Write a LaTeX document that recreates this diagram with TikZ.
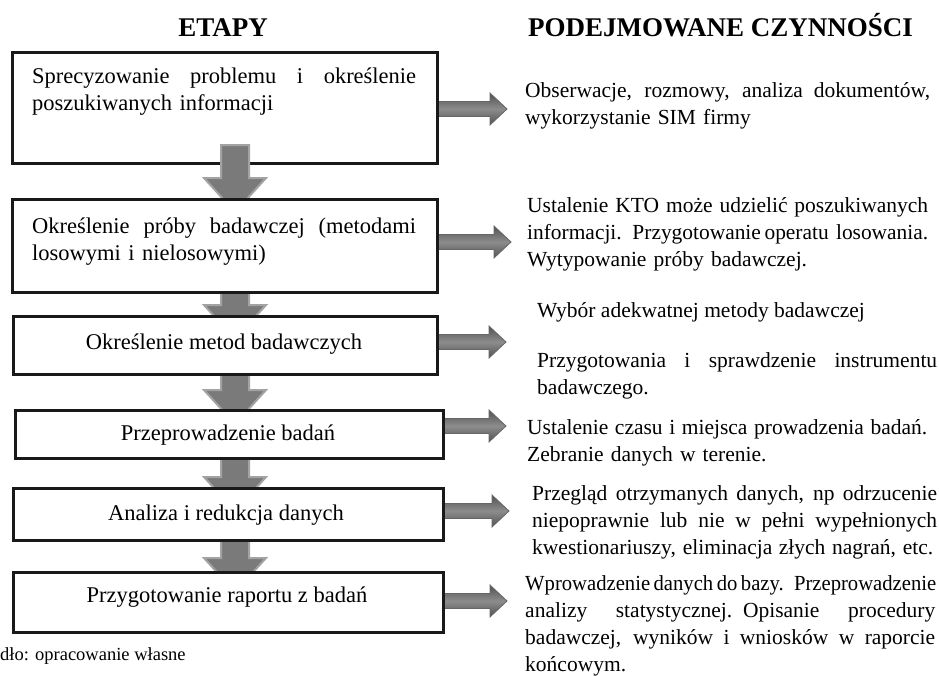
\documentclass[tikz,border=0pt]{standalone}
\usepackage{fontspec}
\usepackage{graphicx}
\setmainfont{Liberation Serif}
\usetikzlibrary{calc}
\pgfdeclarelayer{bgfill}
\pgfdeclarelayer{rarrows}
\pgfdeclarelayer{firstbox}
\pgfdeclarelayer{darrows}
\pgfsetlayers{bgfill,rarrows,firstbox,darrows,main}
\newsavebox\jlbox
% justified line: stretch to the width, or squeeze horizontally if too wide
\newcommand\jl[2]{\leavevmode\sbox\jlbox{\spaceskip=0.17em\relax #2}%
  \ifdim\wd\jlbox>#1\relax
    \pgfmathsetmacro\jlf{#1/\the\wd\jlbox}\scalebox{\jlf}[1]{\usebox\jlbox}%
  \else
    \hbox to #1{\spaceskip=0.25em plus 1em minus 0.08em\relax #2}%
  \fi}
\tikzset{
  stage/.style={draw=black!90, line width=3pt, fill=white, inner sep=0pt, outer sep=0pt},
  downarr/.style={fill=black!52, draw=black!36, line width=2pt},
  rightarr/.style={top color=black!68, bottom color=black!68, middle color=black!45, draw=black!60, line width=0.8pt},
  header/.style={inner sep=0pt, font={\fontsize{27}{30}\selectfont\bfseries}},
  boxtxt/.style={inner sep=0pt, anchor=base west, align=left, font={\fontsize{22.5}{27}\selectfont}},
  boxone/.style={inner sep=0pt, anchor=base, font={\fontsize{22.5}{27}\selectfont}},
  acttxt/.style={inner sep=0pt, anchor=base west, align=left, font={\fontsize{21.5}{27}\selectfont}},
  foot/.style={inner sep=0pt, anchor=base west, font={\fontsize{18.5}{22}\selectfont}}
}
\newcommand\darr[4]{%
  \path (ax |- #1.south) ++(0,-#3) coordinate (ds) (ax |- #2.north) ++(0,-#4) coordinate (dh);
  \draw[downarr] ($(ds)+(-14,0)$) -- ($(ds)+(14,0)$) -- ($(dh)+(14,0)$) -- ($(dh)+(31,0)$)
    -- ($(dh)+(0,34)$) -- ($(dh)+(-31,0)$) -- ($(dh)+(-14,0)$) -- cycle;}
\newcommand\rarr[2]{%
  \path (#1.east |- #2) coordinate (rs);
  \draw[rightarr] ($(rs)+(-3,-7.5)$) -- ($(#2)+(-17,-7.5)$) -- ($(#2)+(-17,-16)$) -- (#2)
    -- ($(#2)+(-17,16)$) -- ($(#2)+(-17,7.5)$) -- ($(rs)+(-3,7.5)$) -- cycle;}
\begin{document}
\begin{tikzpicture}[x=1pt,y=-1pt]
\useasboundingbox (0,0) rectangle (939,675);
\begin{pgfonlayer}{bgfill}
\fill[white] (0,0) rectangle (939,675);
\end{pgfonlayer}

% headers
\node[header, anchor=base] (h1) at (223,36) {ETAPY};
\node[header, anchor=base west] (h2) at (528,36) {PODEJMOWANE CZYNNOŚCI};

% stage boxes
\begin{pgfonlayer}{firstbox}
\node[stage, minimum width=425pt, minimum height=111pt] (b1) at (224.5,107.5) {};
\end{pgfonlayer}
\node[stage, minimum width=425pt, minimum height=93pt] (b2) at (224.5,245.5) {};
\node[stage, minimum width=424pt, minimum height=58pt] (b3) at (225,345) {};
\node[stage, minimum width=428pt, minimum height=48pt] (b4) at (229,434) {};
\node[stage, minimum width=430pt, minimum height=52pt] (b5) at (228,514) {};
\node[stage, minimum width=430pt, minimum height=60pt] (b6) at (228,602) {};

% down arrows
\coordinate (ax) at (235,0);
\begin{pgfonlayer}{darrows}
\darr{b1}{b2}{18}{21}
\darr{b2}{b3}{12}{11}
\darr{b3}{b4}{12}{20}
\darr{b4}{b5}{12}{11}
\darr{b5}{b6}{12}{14}
\end{pgfonlayer}

% right arrows
\coordinate (r1) at (507,109);
\coordinate (r2) at (511,242);
\coordinate (r3) at (506,342);
\coordinate (r4) at (506,426);
\coordinate (r5) at (509,511);
\coordinate (r6) at (507,601);
\begin{pgfonlayer}{rarrows}
\rarr{b1}{r1}
\rarr{b2}{r2}
\rarr{b3}{r3}
\rarr{b4}{r4}
\rarr{b5}{r5}
\rarr{b6}{r6}
\end{pgfonlayer}

% stage texts
\node[boxtxt, text width=384pt] (s1) at (32,83) {\jl{384pt}{Sprecyzowanie problemu i określenie}\\poszukiwanych informacji};
\node[boxtxt, text width=384pt] (s2) at (32,233) {\jl{384pt}{Określenie próby badawczej (metodami}\\losowymi i nielosowymi)};
\node[boxone] (s3) at (224,349) {Określenie metod badawczych};
\node[boxone] (s4) at (228,440) {Przeprowadzenie badań};
\node[boxone] (s5) at (226,520) {Analiza i redukcja danych};
\node[boxone] (s6) at (227,602) {Przygotowanie raportu z badań};

% activity texts
\node[acttxt, text width=405pt] (a1) at (525,97) {\jl{405pt}{Obserwacje, rozmowy, analiza dokumentów,}\\wykorzystanie SIM firmy};
\node[acttxt, text width=401pt] (a2) at (527,212) {\jl{401pt}{Ustalenie KTO może udzielić poszukiwanych}\\\jl{401pt}{informacji. Przygotowanie operatu \ losowania.}\\Wytypowanie próby badawczej.};
\node[acttxt] (a3) at (537,317) {Wybór adekwatnej metody badawczej};
\node[acttxt, text width=400pt] (a4) at (537,367) {\jl{400pt}{Przygotowania i sprawdzenie instrumentu}\\badawczego.};
\node[acttxt, text width=400pt] (a5) at (527,434) {\jl{400pt}{Ustalenie czasu i miejsca prowadzenia badań.}\\Zebranie danych w terenie.};
\node[acttxt, text width=405pt] (a6) at (532,500) {\jl{405pt}{Przegląd otrzymanych danych, np odrzucenie}\\\jl{405pt}{niepoprawnie lub nie w pełni wypełnionych}\\\jl{401pt}{kwestionariuszy, eliminacja złych nagrań, etc.}};
\node[acttxt, text width=411pt] (a7) at (525,590) {\jl{411pt}{Wprowadzenie danych do bazy. Przeprowadzenie}\\\jl{410pt}{analizy statystycznej. Opisanie procedury}\\\jl{410pt}{badawczej, wyników i wniosków w raporcie}\\końcowym.};

% source
\node[foot] (src) at (0,660) {dło: opracowanie własne};
\end{tikzpicture}
\end{document}
